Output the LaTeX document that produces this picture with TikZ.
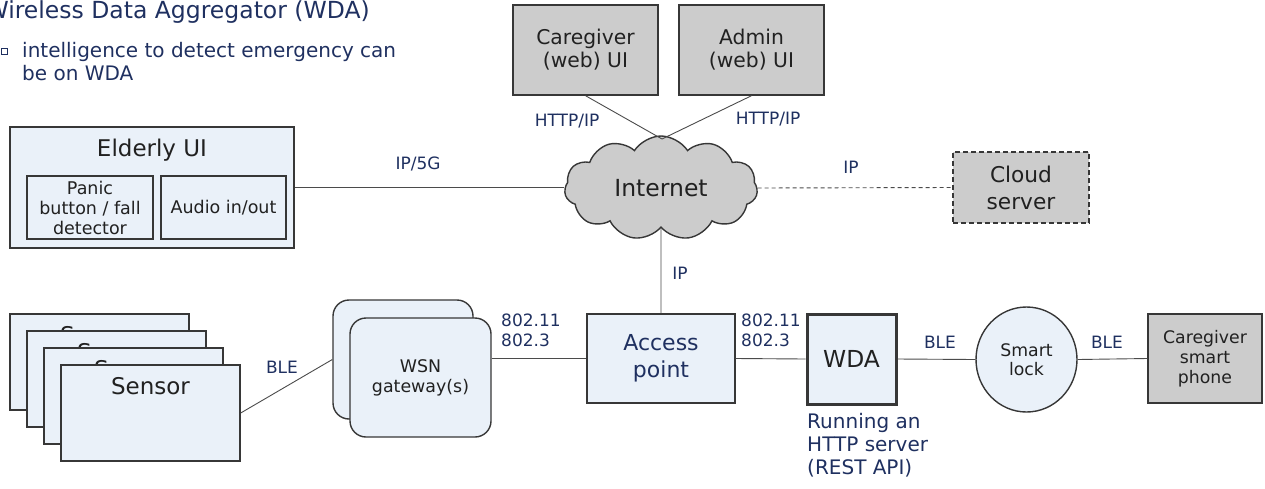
\documentclass[tikz,border=0pt]{standalone}
\usepackage{fontspec}
\setmainfont{DejaVu Sans}
\usetikzlibrary{shapes.symbols,shapes.geometric}
\definecolor{navy}{RGB}{31,48,96}
\definecolor{paleblue}{RGB}{234,241,249}
\definecolor{boxgray}{RGB}{204,204,204}
\definecolor{edge}{RGB}{55,55,55}
\newcommand{\fs}[2]{\fontsize{#1}{#2}\selectfont}

\begin{document}
\begin{tikzpicture}[x=1pt,y=-1pt,
  box/.style={draw=edge,line width=1.4pt,fill=paleblue,inner sep=0pt,align=center,text=black!87},
  graybox/.style={box,fill=boxgray},
  link/.style={draw=edge!90,line width=0.9pt},
  lbl/.style={text=navy,font=\fs{17}{20},inner sep=0pt,align=left}]
\useasboundingbox (0,0) rectangle (1265,488);

% heading and note
\node[anchor=base east,text=navy,font=\fs{23.5}{27},inner sep=0pt] (title) at (370,18) {Wireless Data Aggregator (WDA)};
\node[draw=navy,line width=0.8pt,minimum size=6.5pt,inner sep=0pt] (bullet) at (4.5,51.5) {};
\node[anchor=north west,text=navy,font=\fs{20}{23},inner sep=0pt,align=left] (note) at (22,42)
  {intelligence to detect emergency can\\be on WDA};

% elderly user interface
\node[box,minimum width=284,minimum height=121] (elderly) at (152,187.5) {};
\node[font=\fs{23}{26},text=black!87,inner sep=0pt] (elderlytitle) at (152,150) {Elderly UI};
\node[box,font=\fs{17.5}{20},minimum width=126,minimum height=63] (panic) at (90,207.5) {Panic\\button / fall\\detector};
\node[box,font=\fs{17.5}{20},minimum width=125,minimum height=63] (audio) at (223.5,207.5) {Audio in/out};

% web interfaces and internet
\node[graybox,font=\fs{20.3}{23},minimum width=145,minimum height=90] (cgui) at (585.5,50) {Caregiver\\(web) UI};
\node[graybox,font=\fs{20.3}{23},minimum width=145,minimum height=90] (admin) at (751.5,50) {Admin\\(web) UI};
\node[cloud,cloud puffs=11,cloud puff arc=115,aspect=1.9,draw=edge,line width=1.4pt,fill=boxgray,
  minimum width=193,minimum height=104,inner sep=0pt,font=\fs{23.5}{26},text=black!87] (cloud) at (661,188) {Internet};
\node[graybox,dash pattern=on 5pt off 3pt,font=\fs{21.7}{27},minimum width=136,minimum height=71] (cserver) at (1021,187.5) {Cloud\\server};
\coordinate (cloudtop) at (662,139);

% sensors
\foreach \i in {0,...,3} {
  \node[box,minimum width=179,minimum height=96] (sensor\i) at (99.5+17*\i,362+17*\i) {};
  \node[font=\fs{23}{26},text=black!87,inner sep=0pt] (sensortext\i) at ([yshift=-22pt]sensor\i.north) {Sensor};
}

% gateways
\node[box,rounded corners=16pt,minimum width=140,minimum height=119] (gw1) at (403,359.5) {};
\node[box,rounded corners=16pt,minimum width=141,minimum height=119,font=\fs{17.4}{20}] (gw2) at (420.5,377.5) {WSN\\gateway(s)};

% home network
\node[box,minimum width=148,minimum height=89,font=\fs{22}{27},text=navy] (ap) at (661,358.5) {Access\\point};
\node[box,line width=3pt,minimum width=89,minimum height=90,font=\fs{23.4}{26}] (wda) at (851.5,359) {WDA};
\node[box,ellipse,minimum width=101,minimum height=105,font=\fs{17.3}{19.5}] (lock) at (1026.5,359.5) {Smart\\lock};
\node[graybox,minimum width=114,minimum height=89,font=\fs{17.3}{20}] (phone) at (1205,358.5) {Caregiver\\smart\\phone};

% connectors
\draw[link] (elderly.east) -- (elderly.east -| cloud.west);
\draw[link] (cgui.south) -- (cloudtop);
\draw[link] (admin.south) -- (cloudtop);
\draw[link,dash pattern=on 4pt off 3pt] (cloud.east) -- (cserver.west);
\draw[link] (cloud.south) -- (ap.north);
\draw[link] (sensor3.east) -- (gw1.west);
\draw[link] (ap.west -| gw2.east) -- (ap.west);
\draw[link] (ap.east) -- (wda.west);
\draw[link] (wda.east) -- (lock.west);
\draw[link] (lock.east) -- (phone.west);

% connector labels
\node[lbl] (l1) at (418,164) {IP/5G};
\node[lbl] (l2) at (567,121) {HTTP/IP};
\node[lbl] (l3) at (768,119) {HTTP/IP};
\node[lbl] (l4) at (851,167) {IP};
\node[lbl] (l5) at (680,273) {IP};
\node[lbl] (l6) at (282,367) {BLE};
\node[lbl,anchor=north west] (l7) at (501,314) {802.11\\802.3};
\node[lbl,anchor=north west] (l8) at (741,314) {802.11\\802.3};
\node[lbl] (l9) at (940,342) {BLE};
\node[lbl] (l10) at (1107,342) {BLE};
\node[lbl,anchor=north west,font=\fs{20}{23}] (wdanote) at (807,413) {Running an\\HTTP server\\(REST API)};
\end{tikzpicture}
\end{document}
